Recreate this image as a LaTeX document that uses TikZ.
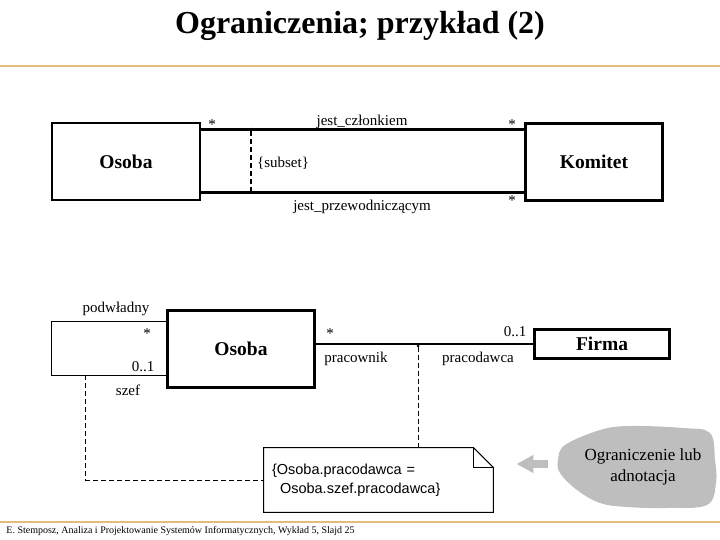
\documentclass[tikz,border=0pt]{standalone}
\usepackage{fontspec}
\setmainfont{Liberation Serif}
\newfontfamily\notefont{Liberation Sans}
\usepackage{tikz}
\usetikzlibrary{arrows, arrows.meta, shapes, positioning, calc}
\definecolor{slideline}{RGB}{228,188,120}
\definecolor{cloudgray}{RGB}{190,190,190}

\begin{document}
\begin{tikzpicture}[x=1pt,y=-1pt,thick,
  cls node/.style={rectangle,draw,line width=2.8pt,inner sep=0pt,
  font=\fontsize{19.5}{22}\selectfont\bfseries},
  lbl/.style={inner sep=0pt,font=\fontsize{15}{17}\selectfont},
  note node/.style={rectangle,inner xsep=8pt,inner ysep=0pt,align=left,
  minimum width=229pt,minimum height=64pt,text width=213pt,
  font=\notefont\fontsize{14.5}{19}\selectfont},
  assoc/.style={line width=2.8pt},
  constraint/.style={line width=1pt,dash pattern=on 5pt off 3pt}]
  \useasboundingbox (0,0) rectangle (720,540);

  \node (title) at (360,26) {\fontsize{32}{36}\selectfont\bfseries Ograniczenia; przykład (2)};
  \draw[slideline, line width=1.5pt] (0,66) -- (720,66);
  \draw[slideline, line width=1.5pt] (0,522) -- (720,522);

  % upper part: two associations with {subset}
  \node[cls node, minimum width=148pt, minimum height=77pt] (Osoba) at (126,161.5) {Osoba};
  \node[cls node, minimum width=137.5pt, minimum height=77.5pt] (Komitet) at (594,162) {Komitet};
  \path (Osoba.north east) ++(0,8) coordinate (o1);
  \path (Osoba.south east) ++(0,-9) coordinate (o2);
  \path[assoc]
    (o1) edge (o1 -| Komitet.west)
    (o2) edge (o2 -| Komitet.west);
  \coordinate (sub1) at ($(o1)+(50,0)$);
  \coordinate (sub2) at (sub1 |- o2);
  \draw[line width=2pt, dash pattern=on 5pt off 3pt] (sub2) -- (sub1);
  \fill (sub1) circle (1.8pt);

  \node[lbl] (m1) at (212,125) {*};
  \node[lbl] (r1) at (362,122) {jest\_członkiem};
  \node[lbl] (m2) at (512,125) {*};
  \node[lbl] (sub) at (283,163) {\{subset\}};
  \node[lbl] (r2) at (362,207) {jest\_przewodniczącym};
  \node[lbl] (m3) at (512,201) {*};

  % lower part: self association and employer
  \node[cls node, minimum width=147.5pt, minimum height=77.5pt] (Osoba2) at (241,349) {Osoba};
  \node[cls node, minimum width=135.5pt, minimum height=29.5pt] (Firma) at (602,344) {Firma};
  \path (Osoba2.north west) ++(0,13) coordinate (sl1);
  \path (Osoba2.south west) ++(0,-14) coordinate (sl2);
  \draw[line width=1pt] (sl1) -- ++(-114,0) |- (sl2);
  \coordinate (szefpt) at ($(sl2)+(-80,0)$);

  \node[lbl] (podw) at (116,309) {podwładny};
  \node[lbl] (m4) at (147,334) {*};
  \node[lbl] (m5) at (143,367) {0..1};
  \node[lbl] (szef) at (128,390) {szef};

  \path[assoc] (Osoba2.east |- Firma.west) edge (Firma.west);
  \coordinate (emp) at ($(Firma.west)!0.53!(Osoba2.east |- Firma.west)$);
  \node[lbl] (m6) at (330,334) {*};
  \node[lbl] (m7) at (515,332) {0..1};
  \node[lbl] (prac) at (356,359) {pracownik};
  \node[lbl] (pracd) at (478,359) {pracodawca};

  \node[note node] (Note) at (378.5,480) {\{Osoba.pracodawca =\\\hspace*{8pt}Osoba.szef.pracodawca\}};
  \draw[line width=1pt] (Note.north west) -- ([xshift=-20pt]Note.north east)
    -- ([yshift=-20pt]Note.north east) -- (Note.south east) -- (Note.south west) -- cycle;
  \draw[line width=1pt] ([xshift=-20pt]Note.north east) |- ([yshift=-20pt]Note.north east);
  \draw[constraint] (Note.north -| emp) -- (emp);
  \fill (emp) ++(0,2) circle (1.5pt);
  \draw[constraint] (szefpt) |- (Note.west);

  % comment cloud
  \fill[cloudgray] plot[smooth cycle, tension=0.6] coordinates {
    (565,445) (600,430) (630,426) (683,428) (710,433) (715,460)
    (716,483) (707,505) (667,508) (627,507) (600,503) (577,490)
    (560,473) (558,460)};
  \node[align=center, inner sep=0pt, font=\fontsize{17}{21}\selectfont] (cloud) at (643,467) {Ograniczenie lub\\adnotacja};
  \coordinate (arr tail) at (548,464);
  \coordinate (arr tip) at ($(Note.east)+(23,-16)$);
  \draw[cloudgray, line width=8pt, -{Triangle[length=17pt,width=17pt]}] (arr tail) -- (arr tip);

  \node[anchor=west, inner sep=0pt, font=\fontsize{10}{12}\selectfont] (footer) at (6,531)
    {E. Stemposz, Analiza i Projektowanie Systemów Informatycznych, Wykład 5, Slajd 25};
\end{tikzpicture}
\end{document}
